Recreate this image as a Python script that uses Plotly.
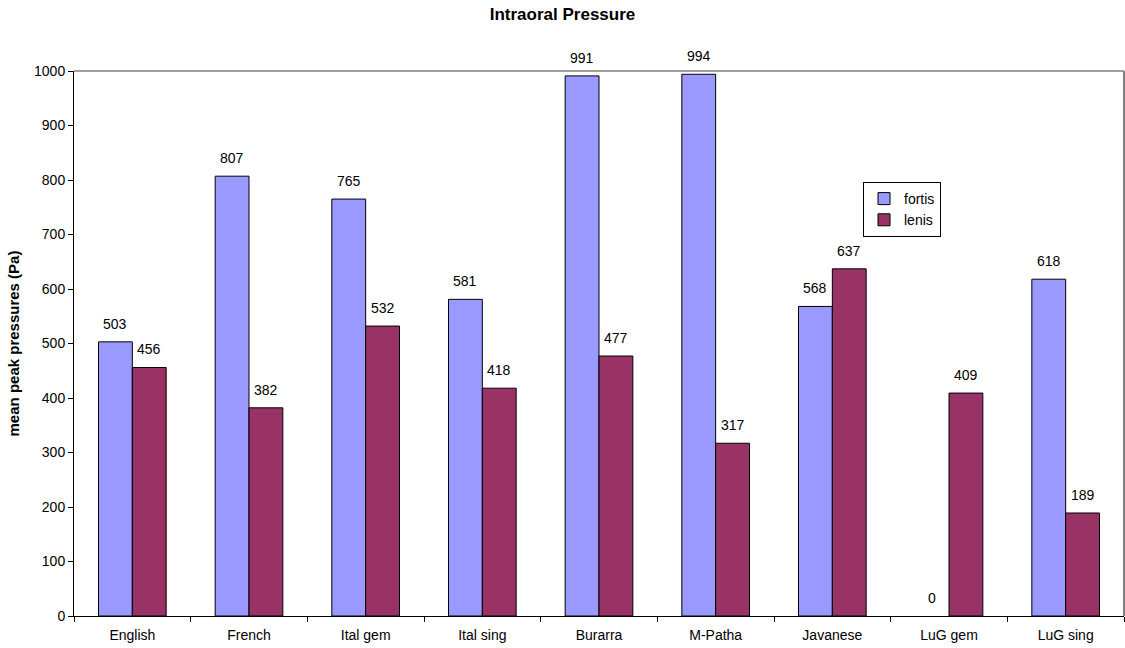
import plotly.graph_objects as go

categories = ["English", "French", "Ital gem", "Ital sing", "Burarra",
              "M-Patha", "Javanese", "LuG gem", "LuG sing"]
fortis = [503, 807, 765, 581, 991, 994, 568, 0, 618]
lenis = [456, 382, 532, 418, 477, 317, 637, 409, 189]
y_ticks = [0, 100, 200, 300, 400, 500, 600, 700, 800, 900, 1000]

FONT = "Liberation Sans, Arial, sans-serif"
BARGAP = 0.42
W, H = 1125, 648
ML, MR, MT, MB = 74, 1, 71, 32

# half a bar's width in pixels, used to centre the value labels on each bar
plot_w = W - ML - MR
half_bar = plot_w / len(categories) * (1 - BARGAP) / 4

fig = go.Figure()
for name, vals, color, shift in [("fortis", fortis, "#9999FF", -half_bar),
                                 ("lenis", lenis, "#993366", half_bar)]:
    fig.add_trace(go.Bar(
        name=name, x=categories, y=vals,
        marker=dict(color=color,
                    line=dict(color="#000000",
                              width=[0 if v == 0 else 1 for v in vals])),
    ))
    for cat, v in zip(categories, vals):
        fig.add_annotation(
            x=cat, y=v, xref="x", yref="y", text=str(v), showarrow=False,
            xshift=shift, yshift=8, yanchor="bottom", xanchor="center",
            font=dict(family=FONT, size=14, color="#000000"),
        )

fig.update_layout(
    width=W, height=H,
    margin=dict(l=ML, r=MR, t=MT, b=MB),
    paper_bgcolor="white", plot_bgcolor="white",
    barmode="group", bargap=BARGAP, bargroupgap=0,
    font=dict(family=FONT, size=14, color="#000000"),
    title=dict(text="<b>Intraoral Pressure</b>", x=0.5, xanchor="center",
               y=0.978, yanchor="middle",
               font=dict(family=FONT, size=17, color="#000000")),
    showlegend=True,
    legend=dict(x=(863 - ML) / plot_w, y=(H - MB - 182) / (H - MT - MB),
                xanchor="left", yanchor="top",
                bgcolor="white", bordercolor="#000000", borderwidth=1,
                font=dict(family=FONT, size=14, color="#000000"),
                itemwidth=30, tracegroupgap=2),
)

fig.update_yaxes(
    range=[0, 1000], tickvals=y_ticks, ticktext=[str(v) for v in y_ticks],
    showgrid=False, zeroline=False,
    showline=True, linecolor="#000000", linewidth=1,
    ticks="outside", ticklen=5, tickcolor="#000000",
    tickfont=dict(family=FONT, size=14, color="#000000"),
    title=dict(text="<b>mean peak pressures (Pa)</b>",
               font=dict(family=FONT, size=15, color="#000000"), standoff=10),
)
fig.update_xaxes(
    showgrid=False, showline=True, linecolor="#000000", linewidth=1,
    ticks="outside", ticklen=5, tickcolor="#000000", tickson="boundaries",
    ticklabelstandoff=6,
    tickfont=dict(family=FONT, size=14, color="#000000"),
)

# grey frame along the top and right edges of the plot area
fig.add_shape(type="line", xref="paper", yref="paper", x0=0, x1=1, y0=1, y1=1,
              line=dict(color="#A0A0A0", width=2))
fig.add_shape(type="line", xref="paper", yref="paper", x0=1, x1=1, y0=0, y1=1,
              line=dict(color="#808080", width=2))

fig.write_html("out.html")
